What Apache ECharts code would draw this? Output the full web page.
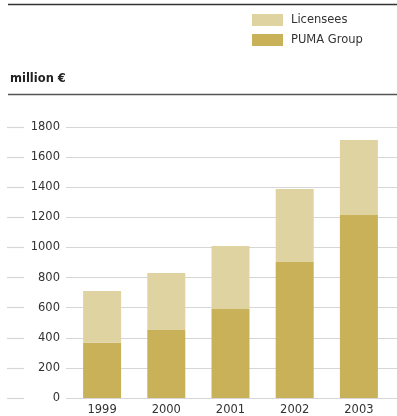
<!DOCTYPE html>
<html>
<head>
<meta charset="utf-8">
<script src="https://cdn.jsdelivr.net/npm/echarts@6/dist/echarts.min.js"></script>
<style>
  html, body { margin: 0; padding: 0; background: #fff; }
  #chart { width: 397px; height: 416px; }
</style>
</head>
<body>
<div id="chart"></div>
<script>
// Sales in million €, 1999–2003
const years = ['1999', '2000', '2001', '2002', '2003'];
const pumaGroup = [367, 452, 591, 904, 1216];
const licensees = [344, 378, 419, 485, 498];
const yTicks = { min: 0, max: 1800, interval: 200 };

const FONT = 'DejaVu Sans';
const GRID_COLOR = '#d6d6d6';
const TOP = 127, BOTTOM = 18;

const chart = echarts.init(document.getElementById('chart'), null, { renderer: 'canvas' });

function valueAxis(gridIndex, showLabels, showSplit) {
  return {
    type: 'value', gridIndex,
    min: yTicks.min, max: yTicks.max, interval: yTicks.interval,
    axisLine: { show: false }, axisTick: { show: false },
    axisLabel: {
      show: showLabels, margin: 6, color: '#333', fontFamily: FONT, fontSize: 11.5,
      formatter: v => String(v)
    },
    splitLine: { show: showSplit, lineStyle: { color: GRID_COLOR, width: 1.2 } }
  };
}

chart.setOption({
  animation: false,
  grid: [
    { left: 7, width: 17, top: TOP, bottom: BOTTOM },   // short leading tick segments
    { left: 66, right: 0, top: TOP, bottom: BOTTOM },   // long gridlines + labels
    { left: 70, right: 6, top: TOP, bottom: BOTTOM }    // bars
  ],
  xAxis: [
    { type: 'value', gridIndex: 0, show: false },
    { type: 'value', gridIndex: 1, show: false },
    {
      type: 'category', gridIndex: 2, data: years,
      axisLine: { show: false }, axisTick: { show: false },
      axisLabel: { margin: 6, color: '#333', fontFamily: FONT, fontSize: 11.5 }
    }
  ],
  yAxis: [
    valueAxis(0, false, true),
    valueAxis(1, true, true),
    valueAxis(2, false, false)
  ],
  legend: {
    orient: 'vertical', left: 252, top: 14, padding: 0,
    itemWidth: 31, itemHeight: 12, itemGap: 8,
    icon: 'rect',
    data: ['Licensees', 'PUMA Group'],
    textStyle: { fontFamily: FONT, fontSize: 11.5, color: '#333', padding: [0, 0, 0, 3] }
  },
  graphic: [
    { type: 'line', shape: { x1: 8, y1: 4.5, x2: 397, y2: 4.5 }, style: { stroke: '#333', lineWidth: 1.5 } },
    { type: 'line', shape: { x1: 8, y1: 94.5, x2: 397, y2: 94.5 }, style: { stroke: '#555', lineWidth: 1.5 } },
    { type: 'text', left: 10, top: 73, style: { text: 'million €', font: 'bold 11.5px "DejaVu Sans"', fill: '#222' } }
  ],
  series: [
    {
      name: 'PUMA Group', type: 'bar', stack: 'sales', xAxisIndex: 2, yAxisIndex: 2,
      barWidth: 38, data: pumaGroup, itemStyle: { color: '#c9b15a' }
    },
    {
      name: 'Licensees', type: 'bar', stack: 'sales', xAxisIndex: 2, yAxisIndex: 2,
      barWidth: 38, data: licensees, itemStyle: { color: '#e0d3a2' }
    }
  ]
});
</script>
</body>
</html>
